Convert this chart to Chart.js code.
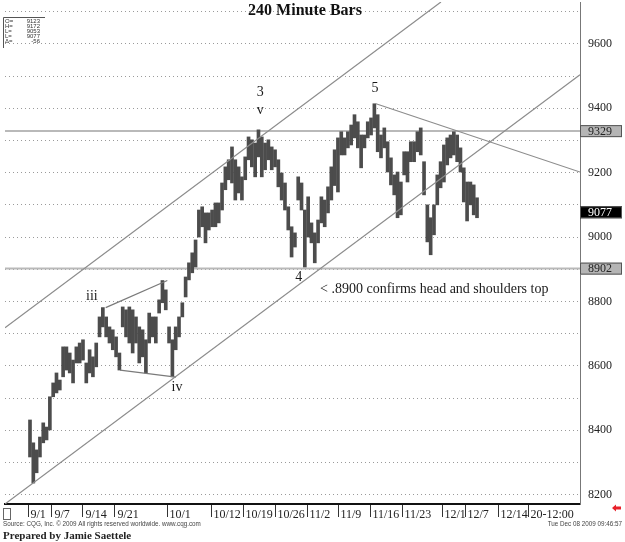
<!DOCTYPE html>
<html>
<head>
<meta charset="utf-8">
<title>240 Minute Bars</title>
<script src="https://cdn.jsdelivr.net/npm/chart.js@4.4.1/dist/chart.umd.min.js"></script>
<style>
  html, body { margin: 0; padding: 0; background: #fff; }
  #wrap { width: 625px; height: 542px; position: relative; }
</style>
</head>
<body>
<div id="wrap"><canvas id="chart"></canvas></div>
<script>
// 240 minute bars, one entry per ~half session (low / high)
const BAR_LOW = [
  8317, 8236, 8268, 8317, 8361, 8370, 8401, 8504, 8516, 8525,
  8566, 8587, 8578, 8547, 8609, 8609, 8618, 8547, 8578, 8566,
  8597, 8690, 8721, 8690, 8671, 8650, 8628, 8587,
  8721, 8690, 8671, 8640, 8671, 8609, 8628, 8578, 8671, 8690,
  8671, 8764, 8796, 8774, 8671, 8566, 8650, 8690, 8752, 8814,
  8867, 8889, 8907, 9000, 9032, 8982, 9022, 9032, 9032, 9044,
  9084, 9147, 9178,
  9168, 9115, 9137, 9115, 9178, 9240, 9218, 9187, 9249, 9187,
  9209, 9240, 9209, 9218, 9156, 9115, 9084, 9022, 8938, 8969,
  9115, 9084, 8907, 9000, 8982, 8920, 8982, 9044, 9032, 9075,
  9115, 9160,
  9140, 9255, 9255, 9277, 9286, 9308, 9277, 9215, 9277, 9308,
  9317, 9339, 9265, 9246, 9277, 9202, 9162, 9131, 9060, 9069,
  9193, 9171, 9234, 9234, 9265, 9255, 9131, 8985, 8945, 9007,
  9100, 9153,
  9171, 9224, 9246, 9255, 9234, 9202, 9109, 9050, 9100, 9069, 9060
];
const BAR_HIGH = [
  8432, 8361, 8339, 8379, 8423, 8410, 8504, 8547, 8578, 8556,
  8659, 8659, 8640, 8618, 8659, 8671, 8681, 8609, 8650, 8628,
  8671, 8752, 8781, 8752, 8721, 8712, 8690, 8640,
  8783, 8774, 8783, 8774, 8752, 8721, 8712, 8681, 8764, 8752,
  8752, 8805, 8865, 8836, 8721, 8681, 8721, 8752, 8796, 8876,
  8920, 8951, 8991, 9084, 9094, 9075, 9075, 9084, 9106, 9106,
  9168, 9218, 9240,
  9280, 9240, 9218, 9187, 9249, 9311, 9302, 9292, 9333, 9311,
  9292, 9302, 9280, 9271, 9240, 9199, 9168, 9094, 9032, 9013,
  9187, 9168, 9084, 9125, 9044, 9013, 9053, 9125, 9115, 9156,
  9218, 9271,
  9308, 9327, 9308, 9327, 9348, 9380, 9358, 9317, 9317, 9358,
  9370, 9414, 9380, 9317, 9339, 9296, 9246, 9193, 9202, 9171,
  9265, 9265, 9296, 9296, 9327, 9339, 9234, 9100, 9060, 9100,
  9193, 9234,
  9286, 9308, 9317, 9327, 9317, 9277, 9215, 9171, 9171, 9162, 9122
];

// x axis: session starts, in bar units
const TICK_POS = [-0.6, 6.64, 16.0, 25.67, 41.38, 54.67, 64.33, 74.0, 83.66, 93.02,
                  102.69, 112.35, 124.43, 131.4, 141.35, 150.41];
const TICK_LABELS = ['9/1', '9/7', '9/14', '9/21', '10/1', '10/12', '10/19', '10/26', '11/2', '11/9',
                     '11/16', '11/23', '12/1', '12/7', '12/14', '20-12:00'];
const X_MIN = -7.55;
const X_MAX = 166.1;

// y axis
const Y_GRID = [8200, 8300, 8400, 8500, 8600, 8700, 8800, 8900, 9000, 9100, 9200, 9300, 9400, 9500, 9600, 9700];
const Y_LABELS = [8200, 8400, 8600, 8800, 9000, 9200, 9400, 9600];
const Y_MIN = 8171;
const Y_MAX = 9730;

// drawn trend lines [[x1, y1], [x2, y2]]
const CHANNEL_TOP = [[-7.55, 8718], [124.1, 9730]];
const CHANNEL_BOTTOM = [[-7.55, 8171], [166.1, 9504]];
const NECKLINE = [[104.5, 9414], [166.1, 9202]];
const WEDGE_TOP = [[22.86, 8781], [41.47, 8865]];
const WEDGE_BOTTOM = [[27.18, 8587], [44.1, 8565]];

// horizontal levels and the last price
const LEVELS = [9329, 8902];
const LAST_PRICE = 9077;

// wave labels [text, x, y]
const WAVE_LABELS = [
  ['3', 69.5, 9448], ['v', 69.5, 9395], ['5', 104.2, 9463],
  ['iii', 18.7, 8817], ['iv', 44.4, 8532], ['4', 81.2, 8876]
];
const NOTE = ['< .8900 confirms head and shoulders top', 87.6, 8839];

const INFO_ROWS = [['O=', '9123'], ['H=', '9172'], ['L=', '9053'], ['L=', '9077'], ['\u0394=', '-56']];

const SERIF = "'Liberation Serif', 'Times New Roman', serif";
const SANS = "'Liberation Sans', Arial, sans-serif";

const toPoints = (seg) => seg.map(p => ({ x: p[0], y: p[1] }));

function trendLine(seg, color, width) {
  return {
    type: 'line',
    data: toPoints(seg),
    borderColor: color,
    borderWidth: width,
    pointRadius: 0,
    fill: false,
    tension: 0,
    order: 0
  };
}

function levelLine(v) {
  return {
    type: 'line',
    data: [{ x: X_MIN, y: v }, { x: X_MAX, y: v }],
    borderColor: '#b9b9b9',
    borderWidth: 2,
    pointRadius: 0,
    fill: false,
    order: 3
  };
}

const background = {
  id: 'background',
  beforeDraw(chart) {
    const ctx = chart.ctx;
    ctx.save();
    ctx.fillStyle = '#fff';
    ctx.fillRect(0, 0, chart.width, chart.height);
    ctx.restore();
  }
};

const overlay = {
  id: 'overlay',
  afterDraw(chart) {
    const ctx = chart.ctx;
    const xs = chart.scales.x;
    const ys = chart.scales.y;
    const area = chart.chartArea;
    ctx.save();

    // title
    ctx.fillStyle = '#111';
    ctx.font = 'bold 16px ' + SERIF;
    ctx.textAlign = 'center';
    ctx.textBaseline = 'alphabetic';
    ctx.fillText('240 Minute Bars', 305, 15);

    // info box top left
    ctx.strokeStyle = '#555';
    ctx.lineWidth = 1;
    ctx.beginPath();
    ctx.moveTo(3.5, 48);
    ctx.lineTo(3.5, 17.5);
    ctx.lineTo(45, 17.5);
    ctx.stroke();
    ctx.font = '6px ' + SANS;
    ctx.fillStyle = '#333';
    INFO_ROWS.forEach((row, i) => {
      const y = 23 + i * 5;
      ctx.textAlign = 'left';
      ctx.fillText(row[0], 5, y);
      ctx.textAlign = 'right';
      ctx.fillText(row[1], 40, y);
    });

    // wave labels
    ctx.fillStyle = '#1a1a1a';
    ctx.font = '14px ' + SERIF;
    ctx.textAlign = 'center';
    ctx.textBaseline = 'middle';
    WAVE_LABELS.forEach(l => {
      ctx.fillText(l[0], xs.getPixelForValue(l[1]), ys.getPixelForValue(l[2]));
    });
    ctx.textAlign = 'left';
    ctx.fillText(NOTE[0], xs.getPixelForValue(NOTE[1]), ys.getPixelForValue(NOTE[2]));

    // price boxes on the right axis
    const box = (v, fill, text) => {
      const y = ys.getPixelForValue(v);
      ctx.fillStyle = fill;
      ctx.fillRect(area.right, y - 6, 42, 12);
      ctx.strokeStyle = '#555';
      ctx.strokeRect(area.right + 0.5, y - 5.5, 41, 11);
      ctx.fillStyle = text;
      ctx.font = '12px ' + SERIF;
      ctx.textAlign = 'left';
      ctx.textBaseline = 'middle';
      ctx.fillText(String(v), area.right + 8, y + 0.5);
    };
    LEVELS.forEach(v => box(v, '#b5b5b5', '#222'));
    box(LAST_PRICE, '#000', '#fff');

    // footer
    ctx.textBaseline = 'alphabetic';
    ctx.fillStyle = '#444';
    ctx.font = '6.3px ' + SANS;
    ctx.textAlign = 'left';
    ctx.fillText('Source: CQG, Inc. \u00a9 2009 All rights reserved worldwide. www.cqg.com', 3, 526);
    ctx.textAlign = 'right';
    ctx.fillText('Tue Dec 08 2009 09:46:57', 622, 526);
    ctx.fillStyle = '#222';
    ctx.font = 'bold 11px ' + SERIF;
    ctx.textAlign = 'left';
    ctx.fillText('Prepared by Jamie Saettele', 3, 539);

    // small square under the axis start and the red arrow
    ctx.strokeStyle = '#666';
    ctx.strokeRect(3.5, 508.5, 7, 11);
    ctx.fillStyle = '#e8202a';
    ctx.beginPath();
    ctx.moveTo(612, 508);
    ctx.lineTo(616, 504.5);
    ctx.lineTo(616, 506.5);
    ctx.lineTo(621, 506.5);
    ctx.lineTo(621, 509.5);
    ctx.lineTo(616, 509.5);
    ctx.lineTo(616, 511.5);
    ctx.closePath();
    ctx.fill();

    ctx.restore();
  }
};

new Chart(document.getElementById('chart'), {
  type: 'bar',
  data: {
    datasets: [
      {
        type: 'bar',
        data: BAR_LOW.map((lo, i) => ({ x: i, y: [lo, BAR_HIGH[i]] })),
        backgroundColor: '#4c4c4c',
        borderWidth: 0,
        barThickness: 3,
        order: 1
      },
      levelLine(LEVELS[0]),
      levelLine(LEVELS[1]),
      trendLine(CHANNEL_TOP, '#8c8c8c', 1.2),
      trendLine(CHANNEL_BOTTOM, '#8c8c8c', 1.2),
      trendLine(NECKLINE, '#8c8c8c', 1.2),
      trendLine(WEDGE_TOP, '#7a7a7a', 1.2),
      trendLine(WEDGE_BOTTOM, '#7a7a7a', 1.2)
    ]
  },
  options: {
    responsive: true,
    maintainAspectRatio: false,
    animation: false,
    layout: { padding: { left: 5, top: 2, right: 0, bottom: 22 } },
    plugins: {
      legend: { display: false },
      tooltip: { enabled: false },
      title: { display: false }
    },
    scales: {
      x: {
        type: 'linear',
        min: X_MIN,
        max: X_MAX,
        offset: false,
        afterBuildTicks: (scale) => { scale.ticks = TICK_POS.map(v => ({ value: v })); },
        afterFit: (scale) => { scale.height = 16; scale.paddingLeft = 0; scale.paddingRight = 0; },
        ticks: {
          autoSkip: false,
          maxRotation: 0,
          align: 'start',
          padding: -9,
          color: '#222',
          font: { family: SERIF, size: 12 },
          callback: (value, index) => '\u2009' + TICK_LABELS[index]
        },
        grid: { offset: false, drawOnChartArea: false, tickLength: 13, tickColor: '#333', color: '#333' },
        border: { color: '#111', width: 2 }
      },
      y: {
        position: 'right',
        min: Y_MIN,
        max: Y_MAX,
        afterBuildTicks: (scale) => { scale.ticks = Y_GRID.map(v => ({ value: v })); },
        afterFit: (scale) => { scale.width = 45; scale.paddingTop = 0; scale.paddingBottom = 0; },
        ticks: {
          padding: 8,
          color: '#222',
          font: { family: SERIF, size: 12 },
          callback: (value) => Y_LABELS.includes(value) ? String(value) : ''
        },
        grid: { color: '#9a9a9a', lineWidth: 1, drawTicks: false },
        border: { dash: [1, 3], color: '#777', width: 1 }
      }
    }
  },
  plugins: [background, overlay]
});
</script>
</body>
</html>
